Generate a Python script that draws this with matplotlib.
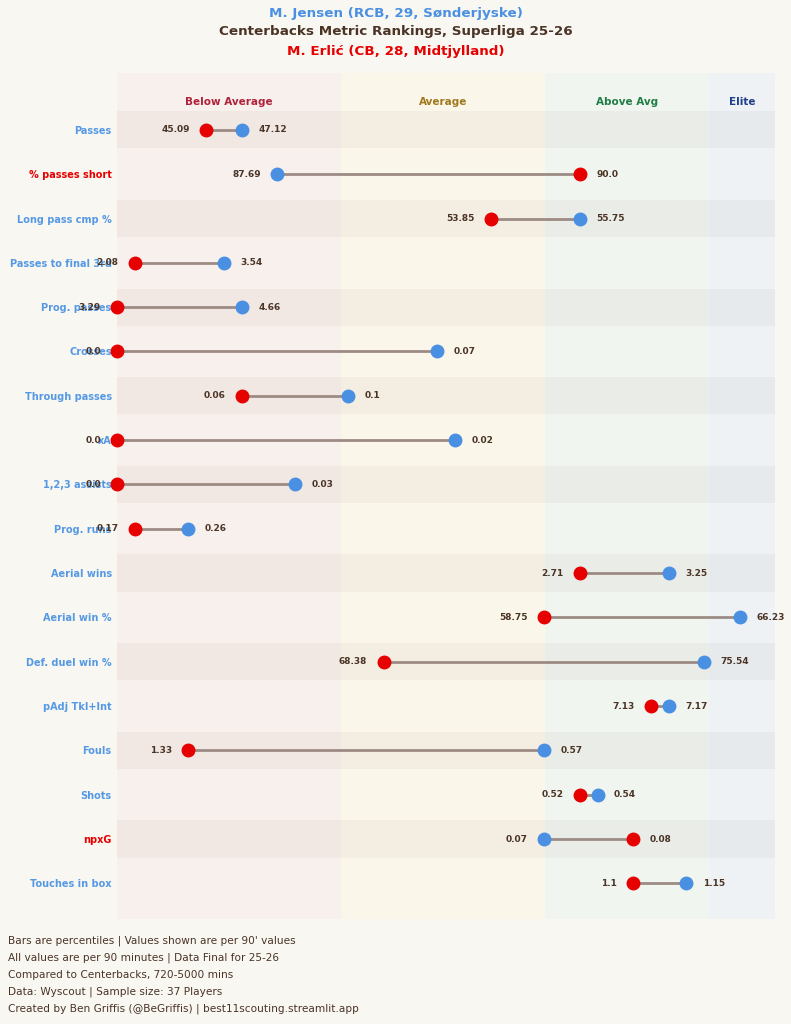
import matplotlib
matplotlib.use('Agg')
import matplotlib.pyplot as plt

plt.rcParams['font.family'] = ['DejaVu Sans']

# metric rows, top to bottom
metrics = ["Passes", "% passes short", "Long pass cmp %", "Passes to final 3rd", "Prog. passes",
           "Crosses", "Through passes", "xA", "1,2,3 assists", "Prog. runs", "Aerial wins",
           "Aerial win %", "Def. duel win %", "pAdj Tkl+Int", "Fouls", "Shots", "npxG",
           "Touches in box"]

# percentiles (x position)
jensen_pct = [18.9, 24.3, 70.3, 16.2, 18.9, 48.6, 35.1, 51.4, 27.0, 10.8, 83.8, 94.6, 89.2,
              83.8, 64.9, 73.0, 64.9, 86.5]
erlic_pct = [13.5, 70.3, 56.8, 2.7, 0.0, 0.0, 18.9, 0.0, 0.0, 2.7, 70.3, 64.9, 40.5,
             81.1, 10.8, 70.3, 78.4, 78.4]

# per 90 values shown as labels
jensen_val = [47.12, 87.69, 55.75, 3.54, 4.66, 0.07, 0.1, 0.02, 0.03, 0.26, 3.25, 66.23, 75.54,
              7.17, 0.57, 0.54, 0.07, 1.15]
erlic_val = [45.09, 90.0, 53.85, 2.08, 3.29, 0.0, 0.06, 0.0, 0.0, 0.17, 2.71, 58.75, 68.38,
             7.13, 1.33, 0.52, 0.08, 1.1]

zone_names = ["Below Average", "Average", "Above Avg", "Elite"]
zone_edges = [0, 34, 65, 90, 100]

footer = ["Bars are percentiles | Values shown are per 90' values",
          "All values are per 90 minutes | Data Final for 25-26",
          "Compared to Centerbacks, 720-5000 mins",
          "Data: Wyscout | Sample size: 37 Players",
          "Created by Ben Griffis (@BeGriffis) | best11scouting.streamlit.app"]

bg = '#f9f7f2'
blue = '#4a90e2'
red = '#e60000'
dark = '#4a3426'
zone_fill = ['#f8f0ec', '#fbf6ea', '#f1f5ef', '#eef2f5']
zone_txt = ['#b0213a', '#a0781c', '#1e7d45', '#1f3f8a']

fig = plt.figure(figsize=(7.91, 10.24), dpi=100, facecolor=bg)
ax = fig.add_axes([0.1483, 0.1023, 0.8318, 0.8267])
ax.set_facecolor(bg)

n = len(metrics)
ax.set_xlim(0, 100)
ax.set_ylim(n - 1 + 0.81, -1.29)

for i in range(4):
    ax.axvspan(zone_edges[i], zone_edges[i + 1], color=zone_fill[i], zorder=0, lw=0)
    ax.text((zone_edges[i] + zone_edges[i + 1]) / 2, -0.64, zone_names[i], ha='center', va='center',
            fontsize=7.5, fontweight='bold', color=zone_txt[i])

for i in range(0, n, 2):
    ax.axhspan(i - 0.42, i + 0.42, color='#4a3a2a', alpha=0.04, lw=0, zorder=1)

off = 2.5
for i in range(n):
    jp, ep = jensen_pct[i], erlic_pct[i]
    ax.plot([jp, ep], [i, i], color='#9c8b84', lw=2, zorder=2, solid_capstyle='butt')
    ax.plot(ep, i, 'o', color=red, markersize=9, zorder=3, clip_on=False)
    ax.plot(jp, i, 'o', color=blue, markersize=9, zorder=3, clip_on=False)
    if jp >= ep:
        lo_v, hi_v, lo_p, hi_p = erlic_val[i], jensen_val[i], ep, jp
    else:
        lo_v, hi_v, lo_p, hi_p = jensen_val[i], erlic_val[i], jp, ep
    ax.text(lo_p - off, i, str(lo_v), ha='right', va='center', fontsize=6.5,
            fontweight='bold', color=dark, zorder=4, clip_on=False)
    ax.text(hi_p + off, i, str(hi_v), ha='left', va='center', fontsize=6.5,
            fontweight='bold', color=dark, zorder=4, clip_on=False)

ax.set_yticks(range(n))
ax.set_yticklabels(metrics, fontsize=7, fontweight='bold')
for i, lab in enumerate(ax.get_yticklabels()):
    lab.set_color('#5599e4' if jensen_pct[i] > erlic_pct[i] else red)
ax.tick_params(axis='y', length=0, pad=4)
ax.set_xticks([])
for s in ax.spines.values():
    s.set_visible(False)

fig.text(0.5, 0.987, "M. Jensen (RCB, 29, Sønderjyske)", ha='center', va='center',
         fontsize=9.7, fontweight='bold', color=blue)
fig.text(0.5, 0.969, "Centerbacks Metric Rankings, Superliga 25-26", ha='center', va='center',
         fontsize=9.7, fontweight='bold', color=dark)
fig.text(0.5, 0.950, "M. Erlić (CB, 28, Midtjylland)", ha='center', va='center',
         fontsize=9.7, fontweight='bold', color=red)

for k, line in enumerate(footer):
    fig.text(0.0101, 0.0815 - k * 0.0166, line, ha='left', va='center', fontsize=7.6, color=dark)

fig.savefig('out.png', dpi=100, facecolor=bg)
